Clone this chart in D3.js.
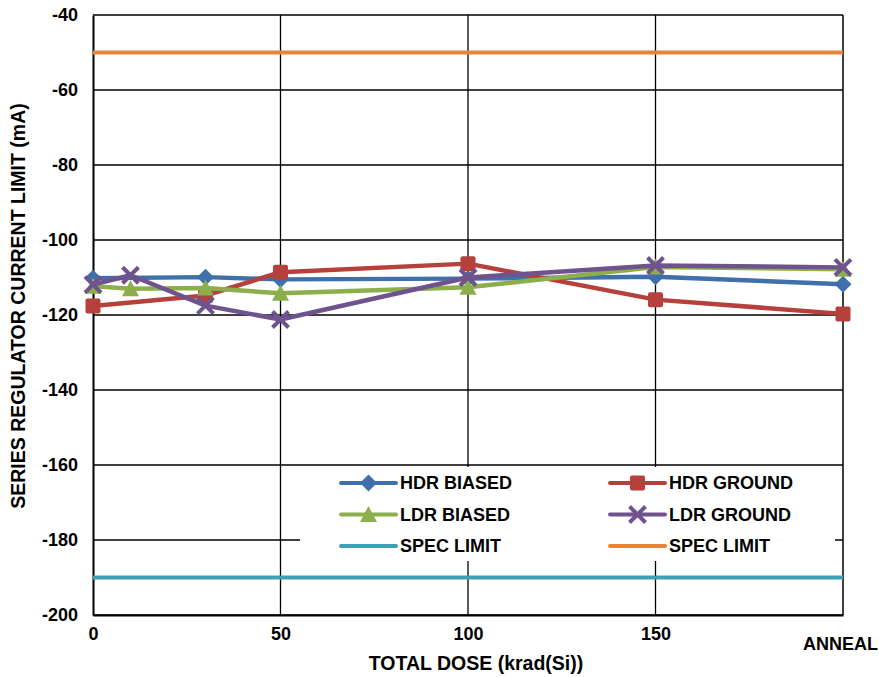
<!DOCTYPE html>
<html><head><meta charset="utf-8">
<script src="https://cdn.jsdelivr.net/npm/d3@7"></script>
<style>body{margin:0;background:#fff}svg{display:block}text{font-family:"Liberation Sans",Arial,sans-serif;font-weight:bold}</style>
</head><body><svg id="c" width="879" height="677"></svg>
<script>
// x positions: 200 stands for ANNEAL
const xHdr = [0, 30, 50, 100, 150, 200];
const xLdr = [0, 10, 30, 50, 100, 150, 200];
const hdrBiased = [-110.2, -109.9, -110.5, -110.3, -109.8, -111.8];
const hdrGround = [-117.6, -114.8, -108.6, -106.3, -115.9, -119.7];
const ldrBiased = [-112.3, -113.0, -112.8, -114.2, -112.6, -107.2, -107.8];
const ldrGround = [-111.9, -109.4, -117.5, -121.2, -110.0, -106.8, -107.3];
const specLow = -190, specHigh = -50;
const xTickVals = [0, 50, 100, 150, 200];
const xTickLabels = ["0", "50", "100", "150", "ANNEAL"];
const yTickVals = [-40, -60, -80, -100, -120, -140, -160, -180, -200];
const colors = {hb:"#3f70ab", hg:"#b5403c", lb:"#8cae4b", lg:"#6f538e", sl:"#3e9fb8", sh:"#e8843a"};

const svg = d3.select("#c");
const L=93, R=843, T=15, B=615;
const x = d3.scaleLinear().domain([0,200]).range([L,R]);
const y = d3.scaleLinear().domain([-200,-40]).range([B,T]);

// grid
const g = svg.append("g");
g.selectAll("line.h").data(yTickVals).join("line")
  .attr("x1",L).attr("x2",R).attr("y1",d=>y(d)).attr("y2",d=>y(d))
  .attr("stroke","#000").attr("stroke-width",1.3);
g.selectAll("line.v").data([50,100,150]).join("line")
  .attr("x1",d=>x(d)).attr("x2",d=>x(d)).attr("y1",T).attr("y2",B)
  .attr("stroke","#000").attr("stroke-width",1.3);
svg.append("line").attr("x1",R).attr("x2",R).attr("y1",T).attr("y2",B).attr("stroke","#000").attr("stroke-width",1.5);
// axes
const yAx = svg.append("g").attr("transform",`translate(${L},0)`)
  .call(d3.axisLeft(y).tickValues(yTickVals).tickSize(0).tickPadding(15).tickFormat(d=>String(d)));
yAx.select(".domain").attr("stroke-width",2);
const xAx = svg.append("g").attr("transform",`translate(0,${B})`)
  .call(d3.axisBottom(x).tickValues(xTickVals).tickSize(0).tickPadding(12).tickFormat((d,i)=>xTickLabels[i]));
xAx.select(".domain").attr("stroke-width",2);
svg.selectAll(".tick text").attr("font-size",18).attr("font-family","Liberation Sans, Arial, sans-serif").attr("font-weight","bold").attr("fill","#000");
xAx.selectAll(".tick text").filter((d)=>d===200).attr("dy","1.3em").attr("dx","-3");

// spec limits
[[specHigh,colors.sh],[specLow,colors.sl]].forEach(([v,c])=>{
  svg.append("line").attr("x1",L).attr("x2",R).attr("y1",y(v)).attr("y2",y(v)).attr("stroke",c).attr("stroke-width",4);
});

const line = d3.line().x(d=>x(d[0])).y(d=>y(d[1]));
const series = [
  {name:"HDR BIASED", xs:xHdr, ys:hdrBiased, c:colors.hb, m:"diamond"},
  {name:"HDR GROUND", xs:xHdr, ys:hdrGround, c:colors.hg, m:"square"},
  {name:"LDR BIASED", xs:xLdr, ys:ldrBiased, c:colors.lb, m:"triangle"},
  {name:"LDR GROUND", xs:xLdr, ys:ldrGround, c:colors.lg, m:"x"}
];
function marker(sel, type, c){
  if(type==="diamond") sel.append("path").attr("d","M0,-8.5L8.5,0L0,8.5L-8.5,0Z").attr("fill",c);
  else if(type==="square") sel.append("rect").attr("x",-7.5).attr("y",-7.5).attr("width",15).attr("height",15).attr("rx",2).attr("fill",c);
  else if(type==="triangle") sel.append("path").attr("d","M0,-8.5L8.5,7.5L-8.5,7.5Z").attr("fill",c);
  else sel.append("path").attr("d","M-8,-8L8,8M8,-8L-8,8").attr("stroke",c).attr("stroke-width",4).attr("fill","none");
}
series.forEach(s=>{
  const pts = s.xs.map((xv,i)=>[xv,s.ys[i]]);
  svg.append("path").datum(pts).attr("d",line).attr("fill","none").attr("stroke",s.c).attr("stroke-width",4.5).attr("stroke-linejoin","round");
  pts.forEach(p=>{
    const gm = svg.append("g").attr("transform",`translate(${x(p[0])},${y(p[1])})`);
    marker(gm, s.m, s.c);
  });
});

// legend
const leg = svg.append("g");
leg.append("rect").attr("x",300).attr("y",467).attr("width",535).attr("height",94).attr("fill","#fff");
const legItems = [
  {name:"HDR BIASED",c:colors.hb,m:"diamond",col:0,row:0},
  {name:"HDR GROUND",c:colors.hg,m:"square",col:1,row:0},
  {name:"LDR BIASED",c:colors.lb,m:"triangle",col:0,row:1},
  {name:"LDR GROUND",c:colors.lg,m:"x",col:1,row:1},
  {name:"SPEC LIMIT",c:colors.sl,m:null,col:0,row:2},
  {name:"SPEC LIMIT",c:colors.sh,m:null,col:1,row:2}
];
legItems.forEach(it=>{
  const lx = it.col===0 ? 341 : 610, ly = 483 + it.row*31.5;
  leg.append("line").attr("x1",lx).attr("x2",lx+55).attr("y1",ly).attr("y2",ly).attr("stroke",it.c).attr("stroke-width",4).attr("stroke-linecap","round");
  if(it.m){ const gm=leg.append("g").attr("transform",`translate(${lx+27.5},${ly})`); marker(gm,it.m,it.c); }
  leg.append("text").attr("x",lx+59).attr("y",ly).attr("dy","0.36em").attr("font-size",18).text(it.name);
});

// titles
svg.append("text").attr("x",476).attr("y",670).attr("text-anchor","middle").attr("font-size",19.5).text("TOTAL DOSE (krad(Si))");
svg.append("text").attr("transform","translate(25,306) rotate(-90)").attr("text-anchor","middle").attr("font-size",19.5).text("SERIES REGULATOR CURRENT LIMIT (mA)");
</script></body></html>
